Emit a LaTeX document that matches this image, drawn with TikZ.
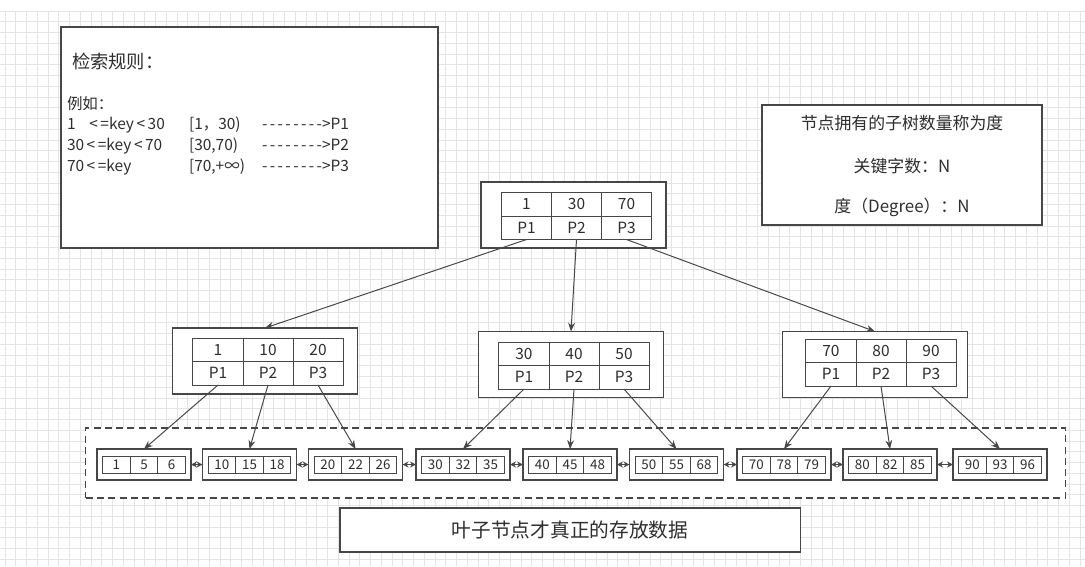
\documentclass[tikz,border=0pt]{standalone}
\usepackage{fontspec}
\setmainfont{Noto Sans CJK SC}
\usetikzlibrary{arrows.meta, positioning}
\usepackage{xcolor}
\definecolor{inkgray}{HTML}{2E2E2E}
\definecolor{linegray}{HTML}{474747}
\definecolor{gridgray}{HTML}{E4E4E4}

% columns of the rule lines
\newcommand{\colA}[1]{\makebox[3.05cm][l]{#1}}
\newcommand{\colB}[1]{\makebox[1.825cm][l]{#1}}
\newcommand{\dashrun}{\makebox[1.5cm][s]{-\hfil-\hfil-\hfil-\hfil-\hfil-\hfil-\hfil-}}

\begin{document}
\begin{tikzpicture}[
    x=0.025cm, y=-0.025cm,
    every node/.style={text=inkgray, inner sep=0pt, outer sep=0pt},
    panel/.style={draw=linegray, line width=0.8pt, fill=white},
    ruleline/.style={anchor=west, font=\fontsize{11}{13}\selectfont},
    degline/.style={font=\fontsize{12}{14}\selectfont},
    outerbox/.style={draw=linegray, line width=0.8pt, fill=white, minimum width=4.625cm, minimum height=1.65cm},
    keycell/.style={draw=linegray, line width=0.7pt, fill=white, minimum width=1.25cm, minimum height=0.5875cm, font=\fontsize{11}{12}\selectfont},
    leafbox/.style={draw=linegray, line width=0.8pt, fill=white, minimum width=2.35cm, minimum height=0.775cm},
    leafcell/.style={draw=linegray, line width=0.6pt, fill=white, minimum width=0.69cm, minimum height=0.425cm, font=\fontsize{9.5}{10}\selectfont},
    arr/.style={-{Stealth[length=2.2mm, width=1.7mm]}, draw=linegray, line width=0.7pt},
    dblarr/.style={{Stealth[length=1.5mm, width=1.5mm]}-{Stealth[length=1.5mm, width=1.5mm]}, draw=linegray, line width=0.7pt},
]

% canvas and grid
\useasboundingbox (0,0) rectangle (1085,566);
\fill[white] (0,0) rectangle (1085,566);
\foreach \i in {0,...,100} {
    \draw[gridgray, line width=0.5pt] (5+\i*10.75,11) -- (5+\i*10.75,566);
}
\foreach \j in {0,...,51} {
    \draw[gridgray, line width=0.5pt] (0,11+\j*10.75) -- (1085,11+\j*10.75);
}

% search rules
\node[panel, minimum width=9.425cm, minimum height=5.525cm] (rules) at (249.5,137.5) {};
\node[anchor=west, font=\fontsize{13}{15}\selectfont] (rtitle) at (72,61) {检索规则：};
\node[ruleline] (rex) at (67,104) {例如：};
\node[ruleline] (r1) at (67,125) {\colA{1\phantom{0}\,\,<\,=key\,<\,30}\colB{[1，30)}\dashrun>P1};
\node[ruleline] (r2) at (67,146) {\colA{30\,<\,=key\,<\,70}\colB{[30,70)}\dashrun>P2};
\node[ruleline] (r3) at (67,167) {\colA{70\,<\,=key}\colB{[70,+∞)}\dashrun>P3};

% degree note
\node[panel, minimum width=7cm, minimum height=3cm] (degree) at (902,165) {};
\node[degline] (d1) at (902,123) {节点拥有的子树数量称为度};
\node[degline] (d2) at (902,166) {关键字数：N};
\node[degline] (d3) at (902,207) {度（Degree）：N};

% leaf row frame
\node[draw=linegray, fill=white, dash pattern=on 5pt off 3pt, line width=0.8pt, minimum width=24.475cm, minimum height=1.75cm] (leafrow) at (575.5,463) {};

% index nodes
\foreach \n/\x/\y/\a/\b/\c/\dx/\dy in {root/573.5/215/1/30/70/3/1, midl/265/361/1/10/20/3/0.5, midm/571/364.5/30/40/50/3/1, midr/875/364.5/70/80/90/6/-2} {
    \node[outerbox] (\n) at (\x,\y) {};
    \node[keycell] (\n-k2) at (\x+\dx,\y+\dy-11.75) {\b};
    \node[keycell, left=0pt of \n-k2] (\n-k1) {\a};
    \node[keycell, right=0pt of \n-k2] (\n-k3) {\c};
    \node[keycell, below=0pt of \n-k1] (\n-p1) {P1};
    \node[keycell, below=0pt of \n-k2] (\n-p2) {P2};
    \node[keycell, below=0pt of \n-k3] (\n-p3) {P3};
}

% leaves
\foreach \n/\x/\a/\b/\c in {l1/144/1/5/6, l2/249.5/10/15/18, l3/355.5/20/22/26, l4/463/30/32/35, l5/570/40/45/48, l6/676.5/50/55/68, l7/784/70/78/79, l8/890/80/82/85, l9/1000/90/93/96} {
    \node[leafbox] (\n) at (\x,464.5) {};
    \node[leafcell] (\n-2) at (\x,464.5) {\b};
    \node[leafcell, left=0pt of \n-2] (\n-1) {\a};
    \node[leafcell, right=0pt of \n-2] (\n-3) {\c};
}

\foreach \a/\b in {root-p1/midl, root-p2/midm, root-p3/midr, midl-p1/l1, midl-p2/l2, midl-p3/l3, midm-p1/l4, midm-p2/l5, midm-p3/l6, midr-p1/l7, midr-p2/l8, midr-p3/l9} {
    \draw[arr] (\a.south) -- (\b.north);
}
\foreach \a/\b in {l1/l2, l2/l3, l3/l4, l4/l5, l5/l6, l6/l7, l7/l8, l8/l9} {
    \draw[dblarr] (\a.east) -- (\b.west);
}

% bottom note
\node[panel, minimum width=11.5cm, minimum height=1.1cm, font=\fontsize{14}{16}\selectfont] (note) at (570,530) {叶子节点才真正的存放数据};

\end{tikzpicture}
\end{document}
